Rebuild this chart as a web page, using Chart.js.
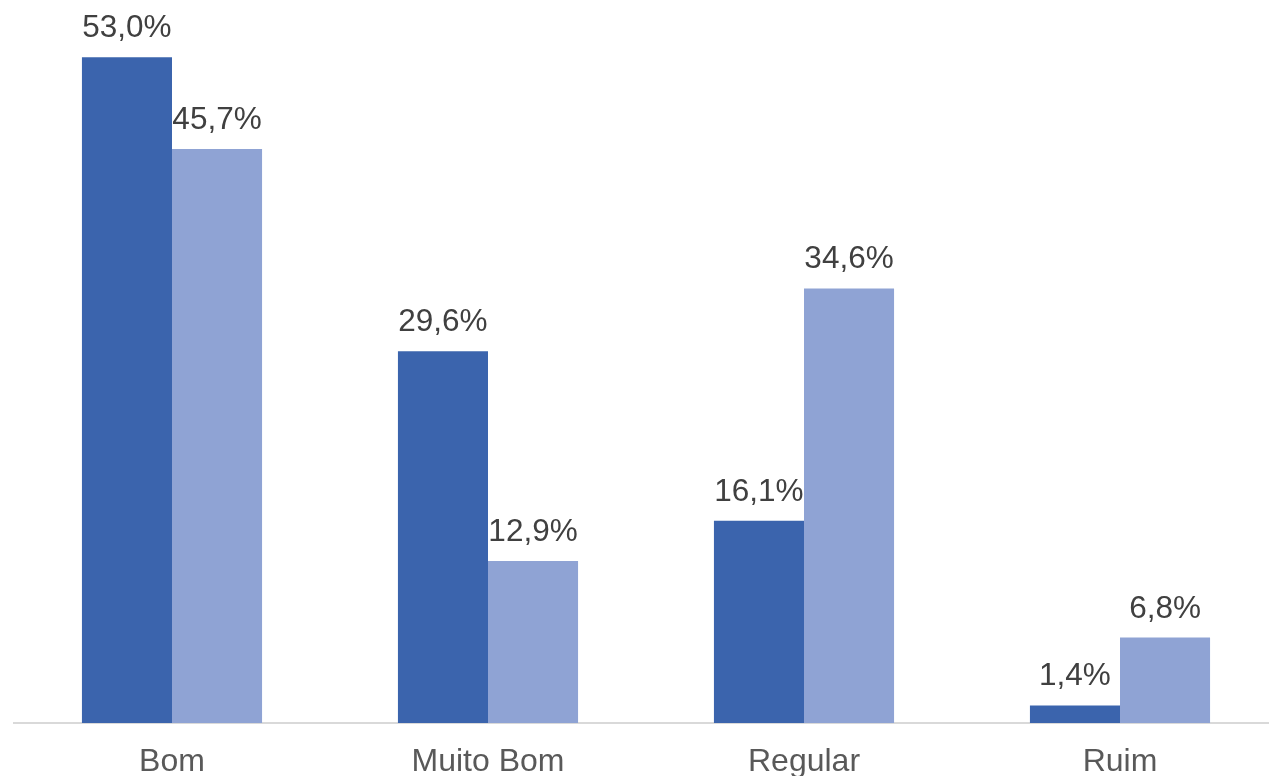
<!DOCTYPE html>
<html lang="pt-BR">
<head>
<meta charset="utf-8">
<title>Avaliação</title>
<script src="https://cdn.jsdelivr.net/npm/chart.js@4/dist/chart.umd.min.js"></script>
<style>
  html, body { margin: 0; padding: 0; background: #ffffff; overflow: hidden; }
  #wrap { position: relative; width: 1278px; height: 776px; }
</style>
</head>
<body>
<div id="wrap"><canvas id="chart"></canvas></div>
<script>
// Categorias e valores (%) de cada série
const categories = ['Bom', 'Muito Bom', 'Regular', 'Ruim'];
const serie1 = [53.0, 29.6, 16.1, 1.4];
const serie2 = [45.7, 12.9, 34.6, 6.8];

const FONT = '"Liberation Sans", Arial, sans-serif';

const fmt = v => v.toFixed(1).replace('.', ',') + '%';

// Rótulos de valor acima de cada barra
const valueLabels = {
  id: 'valueLabels',
  afterDatasetsDraw(chart) {
    const ctx = chart.ctx;
    ctx.save();
    ctx.font = '31.5px ' + FONT;
    ctx.fillStyle = '#404040';
    ctx.textAlign = 'center';
    ctx.textBaseline = 'alphabetic';
    chart.data.datasets.forEach((ds, i) => {
      chart.getDatasetMeta(i).data.forEach((bar, j) => {
        ctx.fillText(fmt(ds.data[j]), bar.x, bar.y - 20);
      });
    });
    ctx.restore();
  }
};

new Chart(document.getElementById('chart'), {
  type: 'bar',
  data: {
    labels: categories,
    datasets: [
      { label: 'Série 1', data: serie1, backgroundColor: '#3B64AD', borderWidth: 0 },
      { label: 'Série 2', data: serie2, backgroundColor: '#8FA3D4', borderWidth: 0 }
    ]
  },
  options: {
    responsive: true,
    maintainAspectRatio: false,
    animation: false,
    datasets: { bar: { barPercentage: 1.0, categoryPercentage: 0.57 } },
    layout: { padding: { left: 14, right: 0, top: 7, bottom: 0 } },
    plugins: {
      legend: { display: false },
      tooltip: { enabled: false }
    },
    scales: {
      x: {
        grid: { display: false, drawTicks: false },
        border: { display: true, color: '#d9d9d9', width: 2 },
        ticks: { color: '#595959', font: { family: FONT, size: 32 }, padding: 20 },
        afterFit(scale) { scale.height = 53; }
      },
      y: {
        display: false,
        min: 0,
        max: 57
      }
    }
  },
  plugins: [valueLabels]
});
</script>
</body>
</html>
